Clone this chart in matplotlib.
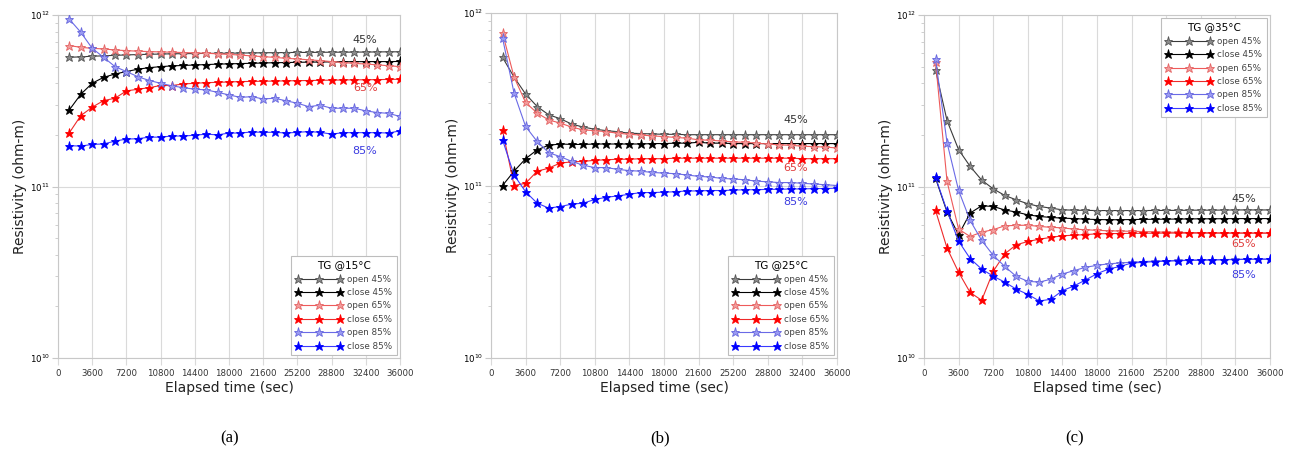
import numpy as np
import matplotlib
matplotlib.use("Agg")
import matplotlib.pyplot as plt
from matplotlib.ticker import LogLocator, NullFormatter, FixedLocator

# ---------------- data (resistivity in units of 1e11 ohm-m) ----------------
time_sec = [1200 * i for i in range(1, 31)]
xticks = [0, 3600, 7200, 10800, 14400, 18000, 21600, 25200, 28800, 32400, 36000]
series_names = ["open 45%", "close 45%", "open 65%", "close 65%", "open 85%", "close 85%"]
panel_titles = ["TG @15\u00b0C", "TG @25\u00b0C", "TG @35\u00b0C"]
captions = ["(a)", "(b)", "(c)"]

# Panel (a) 15 C
a_open45 = [5.67, 5.70, 5.75, 5.78, 5.82, 5.85, 5.88, 5.90, 5.92, 5.94, 5.95, 5.96, 5.97, 5.98, 5.99,
            6.00, 6.01, 6.02, 6.03, 6.04, 6.05, 6.05, 6.06, 6.07, 6.07, 6.08, 6.08, 6.09, 6.10, 6.10]
a_close45 = [2.80, 3.45, 4.00, 4.33, 4.53, 4.68, 4.83, 4.93, 5.00, 5.05, 5.08, 5.11, 5.14, 5.17, 5.19,
             5.21, 5.23, 5.25, 5.27, 5.28, 5.30, 5.31, 5.32, 5.33, 5.34, 5.34, 5.35, 5.35, 5.35, 5.36]
a_open65 = [6.63, 6.48, 6.39, 6.34, 6.25, 6.20, 6.15, 6.12, 6.09, 6.07, 6.04, 6.01, 5.98, 5.94, 5.89,
            5.84, 5.77, 5.72, 5.66, 5.59, 5.54, 5.48, 5.42, 5.35, 5.28, 5.22, 5.18, 5.12, 5.06, 5.00]
a_close65 = [2.06, 2.59, 2.90, 3.17, 3.27, 3.61, 3.69, 3.77, 3.88, 3.88, 3.96, 4.00, 4.03, 4.05, 4.07,
             4.09, 4.10, 4.11, 4.12, 4.13, 4.14, 4.15, 4.16, 4.17, 4.18, 4.19, 4.19, 4.20, 4.21, 4.22]
a_open85 = [9.44, 7.93, 6.39, 5.67, 5.00, 4.68, 4.37, 4.15, 4.00, 3.86, 3.77, 3.69, 3.66, 3.54, 3.42,
            3.31, 3.34, 3.24, 3.27, 3.16, 3.06, 2.92, 2.98, 2.86, 2.86, 2.86, 2.76, 2.70, 2.67, 2.56]
a_close85 = [1.73, 1.72, 1.76, 1.77, 1.84, 1.89, 1.90, 1.94, 1.94, 1.97, 1.97, 1.99, 2.02, 2.00, 2.05,
             2.05, 2.08, 2.07, 2.07, 2.05, 2.07, 2.09, 2.07, 2.02, 2.06, 2.06, 2.06, 2.06, 2.05, 2.11]

# Panel (b) 25 C
b_open45 = [5.53, 4.25, 3.39, 2.87, 2.57, 2.44, 2.27, 2.18, 2.12, 2.08, 2.05, 2.01, 2.00, 1.99, 1.98,
            1.98, 1.97, 1.97, 1.97, 1.97, 1.97, 1.97, 1.97, 1.97, 1.97, 1.97, 1.97, 1.97, 1.97, 1.97]
b_close45 = [1.00, 1.21, 1.43, 1.61, 1.71, 1.74, 1.73, 1.73, 1.74, 1.74, 1.74, 1.74, 1.74, 1.75, 1.75,
             1.76, 1.76, 1.78, 1.76, 1.76, 1.75, 1.75, 1.75, 1.75, 1.75, 1.75, 1.75, 1.75, 1.75, 1.75]
b_open65 = [7.66, 4.25, 3.03, 2.63, 2.40, 2.30, 2.18, 2.10, 2.08, 2.05, 2.01, 1.98, 1.96, 1.94, 1.92,
            1.90, 1.88, 1.84, 1.83, 1.81, 1.79, 1.78, 1.76, 1.74, 1.72, 1.71, 1.69, 1.68, 1.67, 1.65]
b_close65 = [2.09, 1.00, 1.03, 1.21, 1.26, 1.35, 1.37, 1.38, 1.40, 1.41, 1.42, 1.42, 1.43, 1.43, 1.43,
             1.44, 1.44, 1.44, 1.44, 1.44, 1.44, 1.44, 1.44, 1.44, 1.44, 1.44, 1.43, 1.43, 1.43, 1.43]
b_open85 = [7.16, 3.43, 2.20, 1.80, 1.55, 1.47, 1.38, 1.31, 1.27, 1.27, 1.24, 1.22, 1.21, 1.19, 1.18,
            1.17, 1.15, 1.13, 1.12, 1.10, 1.09, 1.08, 1.06, 1.05, 1.04, 1.04, 1.03, 1.02, 1.01, 1.00]
b_close85 = [1.84, 1.15, 0.92, 0.79, 0.74, 0.755, 0.78, 0.79, 0.83, 0.855, 0.87, 0.89, 0.91, 0.91, 0.915,
             0.92, 0.93, 0.93, 0.935, 0.935, 0.94, 0.945, 0.945, 0.95, 0.95, 0.955, 0.955, 0.96, 0.96, 0.965]

# Panel (c) 35 C
c_open45 = [4.78, 2.42, 1.64, 1.31, 1.09, 0.969, 0.887, 0.836, 0.793, 0.765, 0.748, 0.731, 0.728, 0.726, 0.724,
            0.724, 0.724, 0.724, 0.724, 0.725, 0.725, 0.726, 0.727, 0.728, 0.728, 0.729, 0.73, 0.73, 0.73, 0.73]
c_close45 = [1.12, 0.709, 0.523, 0.70, 0.772, 0.765, 0.73, 0.709, 0.684, 0.669, 0.66, 0.654, 0.65, 0.645, 0.642,
             0.64, 0.64, 0.642, 0.643, 0.644, 0.645, 0.646, 0.647, 0.648, 0.648, 0.649, 0.65, 0.65, 0.65, 0.65]
c_open65 = [5.35, 1.07, 0.564, 0.511, 0.542, 0.56, 0.59, 0.593, 0.595, 0.585, 0.578, 0.574, 0.564, 0.56, 0.555,
            0.552, 0.55, 0.548, 0.546, 0.544, 0.542, 0.54, 0.539, 0.538, 0.537, 0.536, 0.536, 0.535, 0.535, 0.535]
c_close65 = [0.725, 0.437, 0.316, 0.241, 0.217, 0.32, 0.405, 0.457, 0.478, 0.493, 0.505, 0.516, 0.52, 0.524, 0.53,
             0.531, 0.532, 0.533, 0.534, 0.534, 0.535, 0.535, 0.535, 0.535, 0.535, 0.535, 0.535, 0.535, 0.535, 0.535]
c_open85 = [5.52, 1.80, 0.948, 0.634, 0.485, 0.397, 0.342, 0.299, 0.28, 0.277, 0.288, 0.309, 0.323, 0.338, 0.347,
            0.354, 0.358, 0.362, 0.365, 0.367, 0.369, 0.371, 0.372, 0.373, 0.374, 0.375, 0.376, 0.377, 0.377, 0.377]
c_close85 = [1.13, 0.72, 0.48, 0.38, 0.33, 0.30, 0.277, 0.252, 0.235, 0.215, 0.22, 0.247, 0.263, 0.285, 0.31,
             0.33, 0.342, 0.358, 0.361, 0.365, 0.367, 0.369, 0.371, 0.372, 0.373, 0.374, 0.375, 0.376, 0.377, 0.377]

panels = [
    [a_open45, a_close45, a_open65, a_close65, a_open85, a_close85],
    [b_open45, b_close45, b_open65, b_close65, b_open85, b_close85],
    [c_open45, c_close45, c_open65, c_close65, c_open85, c_close85],
]
scale = 1e11

# ---------------- styles ----------------
styles = [
    dict(color="#3a3a3a", mfc="#8a8a8a", mec="#555555"),
    dict(color="#000000", mfc="#000000", mec="#000000"),
    dict(color="#ee5a5a", mfc="#f29a9a", mec="#e46464"),
    dict(color="#ee2a2a", mfc="#ff0000", mec="#ff0000"),
    dict(color="#6a6ae6", mfc="#9a9af2", mec="#6666dd"),
    dict(color="#3a3aff", mfc="#0000ff", mec="#0000ff"),
]

axes_rects = [
    [58 / 1289, 1 - 358 / 467, 342 / 1289, 343 / 467],
    [491 / 1289, 1 - 358 / 467, 346 / 1289, 345 / 467],
    [924 / 1289, 1 - 358 / 467, 346 / 1289, 343 / 467],
]
legend_loc = ["lower right", "lower right", "upper right"]
pct_pos = [
    [(0.898, 0.927), (0.898, 0.787), (0.898, 0.603)],
    [(0.881, 0.690), (0.881, 0.551), (0.881, 0.452)],
    [(0.925, 0.4636), (0.925, 0.332), (0.925, 0.242)],
]
pct_text = ["45%", "65%", "85%"]
pct_colors = ["#333333", "#e03c3c", "#3c3ce0"]
caption_x = [230 / 1289, 660 / 1289, 1075 / 1289]

fig = plt.figure(figsize=(12.89, 4.67), dpi=100)
grid_c = "#dadada"
spine_c = "#c8c8c8"

for p in range(3):
    ax = fig.add_axes(axes_rects[p])
    x = np.array(time_sec)
    for s in range(6):
        y = np.array(panels[p][s]) * scale
        st = styles[s]
        ax.plot(x, y, "-", color=st["color"], lw=0.8, marker="*", ms=6.5,
                mfc=st["mfc"], mec=st["mec"], mew=0.6, label=series_names[s], zorder=3)
    ax.set_yscale("log")
    ax.set_ylim(1e10, 1e12)
    ax.set_xlim(0, 36000)
    ax.xaxis.set_major_locator(FixedLocator(xticks))
    ax.set_xticklabels([str(v) for v in xticks], fontsize=6.2, color="#333333")
    ax.yaxis.set_major_locator(LogLocator(base=10, numticks=5))
    ax.yaxis.set_minor_locator(LogLocator(base=10, subs=np.arange(2, 10), numticks=20))
    ax.yaxis.set_minor_formatter(NullFormatter())
    ax.tick_params(axis="y", which="major", labelsize=6.2, length=4, color=spine_c, pad=1.5)
    ax.tick_params(axis="y", which="minor", length=2.5, color=spine_c)
    ax.tick_params(axis="x", which="major", length=5, color=grid_c, pad=3)
    ax.grid(True, which="major", axis="both", color=grid_c, lw=0.8)
    ax.set_axisbelow(True)
    for sp in ax.spines.values():
        sp.set_color(spine_c)
        sp.set_linewidth(0.8)
    ax.set_xlabel("Elapsed time (sec)", fontsize=10, color="#222222", labelpad=2)
    ax.set_ylabel("Resistivity (ohm-m)", fontsize=10, color="#222222", labelpad=2)

    leg = ax.legend(loc=legend_loc[p], title=panel_titles[p], fontsize=6.3, title_fontsize=7.5,
                    numpoints=3, handlelength=5.4, handletextpad=0.6, labelspacing=0.5,
                    borderpad=0.5, borderaxespad=0.35, fancybox=False, framealpha=1,
                    edgecolor="#bdbdbd", markerscale=1.0)
    leg.get_frame().set_linewidth(0.8)
    for t in leg.get_texts():
        t.set_color("#444444")

    for k in range(3):
        ax.text(pct_pos[p][k][0], pct_pos[p][k][1], pct_text[k], transform=ax.transAxes,
                fontsize=8, color=pct_colors[k], ha="center", va="center")

    fig.text(caption_x[p], 1 - 438 / 467, captions[p], fontsize=12, ha="center", va="center",
             family="Liberation Serif")

fig.savefig("out.png", dpi=100)
